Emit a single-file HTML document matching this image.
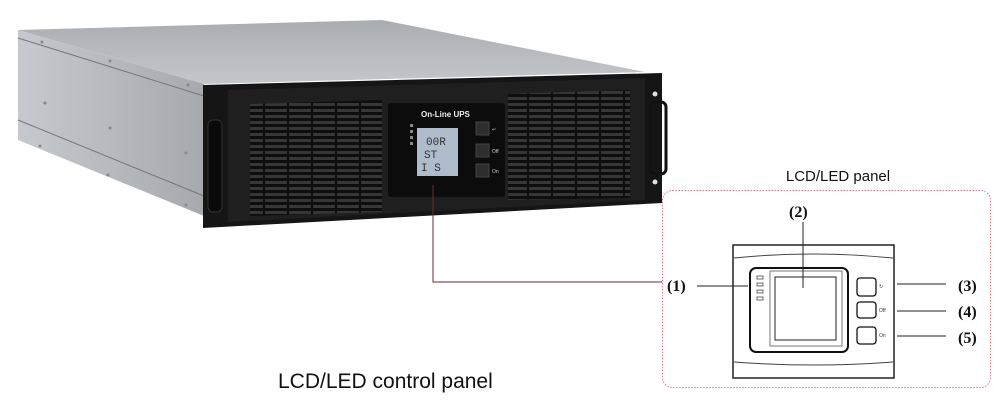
<!DOCTYPE html>
<html><head><meta charset="utf-8"><style>
html,body{margin:0;padding:0;background:#fff;}
svg{display:block;}
</style></head><body>
<svg width="1000" height="406" viewBox="0 0 1000 406" xmlns="http://www.w3.org/2000/svg" font-family="Liberation Sans, sans-serif">
<defs>
<linearGradient id="top" x1="0" y1="0" x2="0" y2="1"><stop offset="0" stop-color="#a9adb2"/><stop offset="1" stop-color="#c4c7ca"/></linearGradient>
<linearGradient id="side" x1="0" y1="0" x2="1" y2="0"><stop offset="0" stop-color="#c6c9cd"/><stop offset="1" stop-color="#a6a9ad"/></linearGradient>
<pattern id="grill" width="24" height="6" patternUnits="userSpaceOnUse">
<rect width="24" height="6" fill="#0e0e0e"/><rect x="1" y="1" width="22" height="3" fill="#363636"/>
</pattern>
</defs>
<polygon points="18,30 382,20 645,72 204,84" fill="url(#top)"/>
<polygon points="18,30 204,84 204,216 18,140" fill="url(#side)"/>
<line x1="18" y1="38" x2="204" y2="96" stroke="#777" stroke-width="1"/>
<line x1="18" y1="120" x2="204" y2="196" stroke="#777" stroke-width="1"/>
<g fill="#888"><circle cx="42" cy="42" r="1.5"/><circle cx="110" cy="61" r="1.5"/><circle cx="188" cy="85" r="1.5"/><circle cx="45" cy="103" r="1.5"/><circle cx="110" cy="128" r="1.5"/><circle cx="186" cy="153" r="1.5"/><circle cx="40" cy="146" r="1.5"/><circle cx="108" cy="175" r="1.5"/><circle cx="186" cy="205" r="1.5"/></g>
<polygon points="203,85 662,73 662,203 203,228" fill="#151515"/>
<polygon points="228,90 645,78 645,200 228,222" fill="#1f1f1f"/>
<rect x="208" y="120" width="14" height="92" rx="5" fill="#0a0a0a" stroke="#333"/>
<rect x="650" y="102" width="16" height="72" rx="5" fill="none" stroke="#111" stroke-width="3"/>
<circle cx="655" cy="94" r="2.5" fill="#ddd"/><circle cx="655" cy="182" r="2.5" fill="#ddd"/>
<polygon points="250,104 382,100 382,212 250,216" fill="url(#grill)"/>
<polygon points="508,94 630,90 630,198 508,200" fill="url(#grill)"/>
<rect x="388" y="103" width="117" height="94" rx="3" fill="#0c0c0c"/>
<text x="421" y="117" font-size="8" font-weight="bold" fill="#eee">On-Line UPS</text>
<rect x="417" y="128" width="41" height="48" fill="#aebccc"/>
<text x="426" y="145" font-size="11" fill="#333" font-family="Liberation Mono, monospace">00R</text>
<text x="424" y="158" font-size="11" fill="#333" font-family="Liberation Mono, monospace">ST</text>
<text x="421" y="171" font-size="11" fill="#333" font-family="Liberation Mono, monospace">I S</text>
<g fill="#888"><rect x="410" y="124" width="3" height="3"/><rect x="410" y="130" width="3" height="3"/><rect x="410" y="136" width="3" height="3"/><rect x="410" y="142" width="3" height="3"/></g>
<g fill="#2e2e2e" stroke="#444"><rect x="476" y="122" width="13" height="13"/><rect x="476" y="144" width="13" height="13"/><rect x="476" y="164" width="13" height="13"/></g>
<g fill="#ccc" font-size="5"><text x="492" y="131">↵</text><text x="492" y="153">Off</text><text x="492" y="173">On</text></g>
<polyline points="433,185 433,282 662,282" fill="none" stroke="#6a2a2a" stroke-width="1"/>
<text x="838" y="181" font-size="15" text-anchor="middle" fill="#111">LCD/LED panel</text>
<rect x="662.5" y="190.5" width="328" height="197" rx="10" fill="none" stroke="#e07a8a" stroke-width="1" stroke-dasharray="1.5,1.5"/>
<rect x="733" y="245" width="161" height="133" fill="#fff" stroke="#222" stroke-width="1.5"/>
<path d="M734,258 Q813,250 893,258" fill="none" stroke="#444"/>
<path d="M734,362 Q813,368 893,362" fill="none" stroke="#444"/>
<rect x="750" y="268" width="98" height="84" rx="6" fill="#fff" stroke="#111" stroke-width="2"/>
<rect x="770" y="271" width="72" height="75" fill="none" stroke="#555" stroke-width="0.8"/>
<rect x="775" y="277" width="61" height="63" fill="#fff" stroke="#222" stroke-width="1"/>
<g fill="none" stroke="#444" stroke-width="0.8"><rect x="757" y="276" width="6" height="3"/><rect x="757" y="283" width="6" height="3"/><rect x="757" y="290" width="6" height="3"/><rect x="757" y="297" width="6" height="3"/></g>
<g fill="none" stroke="#111" stroke-width="1.3"><rect x="857" y="278" width="19" height="18" rx="3"/><rect x="857" y="302" width="19" height="16" rx="3"/><rect x="857" y="327" width="19" height="17" rx="3"/></g>
<g font-size="5" fill="#333"><text x="879" y="288">↻</text><text x="879" y="312">Off</text><text x="879" y="337">On</text></g>
<g stroke="#222" stroke-width="1"><line x1="697" y1="286" x2="748" y2="286"/><line x1="803" y1="222" x2="803" y2="288"/><line x1="897" y1="284" x2="946" y2="284"/><line x1="897" y1="311" x2="946" y2="311"/><line x1="897" y1="336" x2="946" y2="336"/></g>
<g font-family="Liberation Serif, serif" font-size="16" font-weight="bold" fill="#111">
<text x="667" y="291">(1)</text><text x="789" y="217">(2)</text><text x="958" y="291">(3)</text><text x="958" y="317">(4)</text><text x="958" y="343">(5)</text></g>
<text x="278" y="388" font-size="21" fill="#111">LCD/LED control panel</text>
</svg>
</body></html>
